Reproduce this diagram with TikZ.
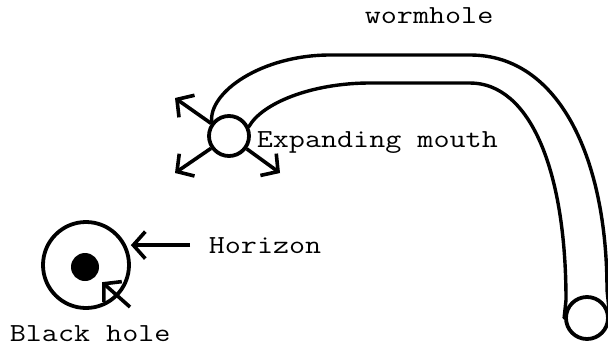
\documentclass[tikz,border=0pt]{standalone}
\usepackage{fontspec}
\setmonofont{Latin Modern Mono}[FakeStretch=1.2]
\usetikzlibrary{arrows.meta}
\newcommand{\labelfont}{\ttfamily\fontsize{26}{26}\selectfont}
\tikzset{>={Straight Barb[length=12pt,width=27pt]}}
\tikzset{ring/.style={circle, draw, line width=3.8pt, inner sep=0pt},
	lbl/.style={anchor=base west, inner sep=0pt, font=\labelfont},
	tube/.style={line width=3.4pt, line cap=round}}

\begin{document}
\begin{tikzpicture}[x=1pt,y=-1pt, line width=3.6pt]
		 \useasboundingbox (0,0) rectangle (608,346);
		 % black hole and its horizon
		 \node[ring, minimum size=86pt] (horizon) at (86,265) {};
		 \node[circle, fill, inner sep=0pt, minimum size=28pt] (hole) at (85,267) {};
		 \node[lbl] (hlabel) at (207,253) {Horizon};
		 \node[lbl] (bhlabel) at (8,341) {Black hole};
		 \coordinate (bhtail) at (130,307);
		 \draw[->] ([xshift=-17pt]hlabel.west) -- (horizon.east |- hlabel.west);
		 \draw[->, shorten >=7pt] (bhtail) -- (hole);
		
		 % the two mouths
		 \node[ring, minimum size=40pt] (mouth) at (229,136) {};
		 \node[ring, minimum size=42pt] (far) at (587,318) {};
		 \node[lbl] (mlabel) at (255,147) {Expanding mouth};
		 \node[lbl] (wlabel) at (363,23) {wormhole};
		
		 \coordinate (nw) at (175,98);
		 \coordinate (sw) at (175,173);
		 \coordinate (se) at (280,173);
		 \foreach \c in {nw,sw,se}
		   \draw[->] (mouth) -- (\c);
		
		 % tube between them
		 \draw[tube] (mouth.142) .. controls (208,92) and (262,55) .. (330,55) -- (470,55)
		   .. controls (560,55) and (607,160) .. (607,290) -- (far.east);
		 \draw[tube] (mouth.25) .. controls (262,103) and (312,83) .. (370,83) -- (470,83)
		   .. controls (530,83) and (566,170) .. (566,300) -- (far.west);
		\end{tikzpicture}
\end{document}
